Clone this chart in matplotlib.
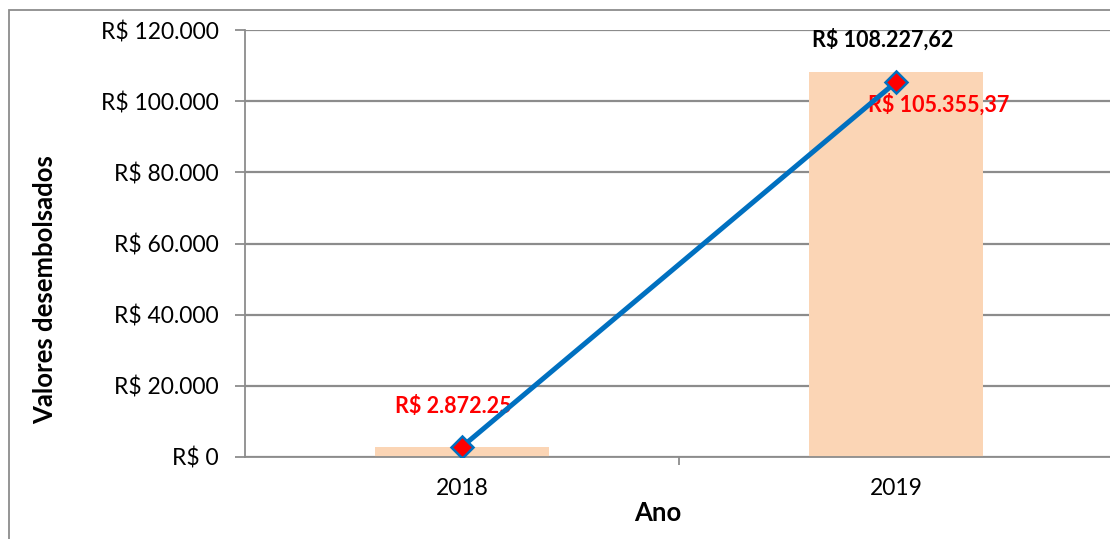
import matplotlib
matplotlib.use("Agg")
import matplotlib.pyplot as plt
from matplotlib.patches import Rectangle

categories = ["2018", "2019"]
bar_values = [2872.25, 108227.62]
line_values = [2872.25, 105355.37]
bar_labels = ["", "R$ 108.227,62"]
line_labels = ["R$ 2.872.25", "R$ 105.355,37"]
yticks = [0, 20000, 40000, 60000, 80000, 100000, 120000]
ytick_labels = ["R$ 0", "R$ 20.000", "R$ 40.000", "R$ 60.000", "R$ 80.000", "R$ 100.000", "R$ 120.000"]

plt.rcParams['font.family'] = ['Lato', 'DejaVu Sans']

W, H = 1110, 539
fig = plt.figure(figsize=(W / 100, H / 100), dpi=100)
fig.patch.set_facecolor("white")

# outer chart border (left and top visible)
fig.add_artist(Rectangle((9 / W, -0.1), 1.2, (H - 10) / H + 0.1, transform=fig.transFigure,
                         fill=False, edgecolor="#8c8c8c", linewidth=1.3))

ax = fig.add_axes([245 / W, 1 - 457 / H, 868 / W, (457 - 30) / H])
ax.set_facecolor("none")
x = list(range(len(categories)))

ax.bar(x, bar_values, width=0.4, color="#FBD5B5", zorder=2)
ax.plot(x, line_values, color="#0070C0", linewidth=3.6, marker="D", markersize=11,
        markerfacecolor="#FF0000", markeredgecolor="#0070C0", markeredgewidth=1.8, zorder=4)

ax.set_xlim(-0.5, 1.5)
ax.set_ylim(0, 120000)
ax.set_yticks(yticks)
ax.set_yticklabels(ytick_labels, fontsize=16.5)
ax.set_xticks(x)
ax.set_xticklabels(categories, fontsize=16.5)
ax.set_xticks([0.5], minor=True)
ax.tick_params(axis="x", which="major", length=0, pad=15)
ax.tick_params(axis="x", which="minor", length=6, color="#8c8c8c", width=1.3)
ax.tick_params(axis="y", length=7, color="#8c8c8c", width=1.3, pad=12)

ax.grid(axis="y", color="#8c8c8c", linewidth=1.6, zorder=1)
ax.set_axisbelow(True)
for s in ["top", "right"]:
    ax.spines[s].set_visible(False)
for s in ["left", "bottom"]:
    ax.spines[s].set_color("#8c8c8c")
    ax.spines[s].set_linewidth(1.3)

# data labels
ax.annotate(line_labels[0], (x[0], line_values[0]), xytext=(-9, 40), textcoords="offset pixels",
            ha="center", va="center", color="#FF0000", fontsize=15.5, fontweight="bold")
ax.annotate(bar_labels[1], (x[1], bar_values[1]), xytext=(-13, 32), textcoords="offset pixels",
            ha="center", va="center", color="black", fontsize=15.5, fontweight="bold")
ax.annotate(line_labels[1], (x[1], line_values[1]), xytext=(-28, -22), textcoords="offset pixels",
            ha="left", va="center", color="#FF0000", fontsize=15.5, fontweight="bold")

ax.set_xlabel("Ano", fontsize=18.5, fontweight="bold")
ax.xaxis.set_label_coords((658 - 245) / 868, -(513 - 457) / (457 - 30))
ax.xaxis.label.set_va("center")
fig.text(45 / W, 1 - 290 / H, "Valores desembolsados", rotation=90, ha="center", va="center",
         fontsize=18.5, fontweight="bold")

fig.savefig("out.png", dpi=100, facecolor="white")
